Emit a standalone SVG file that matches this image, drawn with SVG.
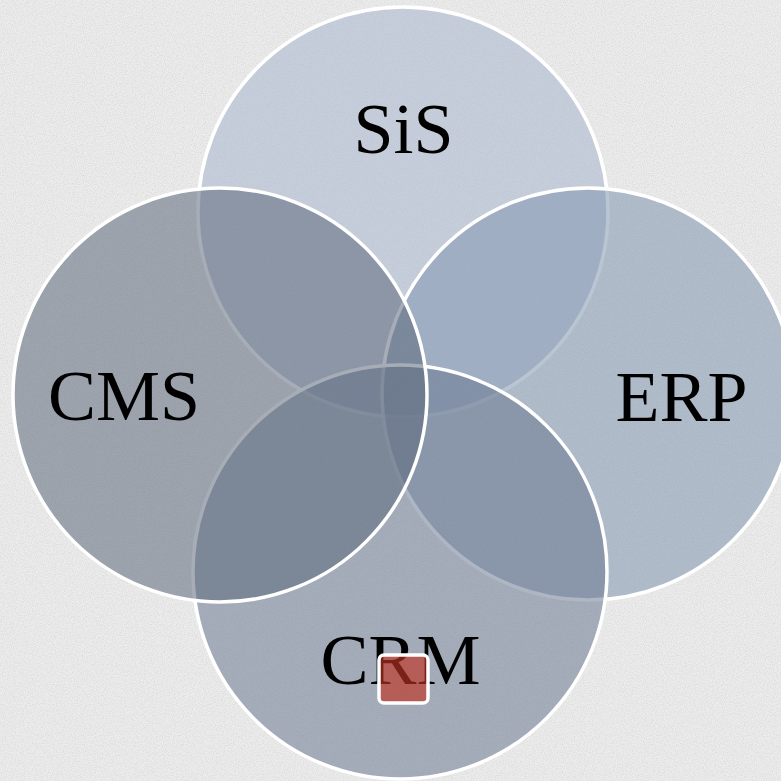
<svg xmlns="http://www.w3.org/2000/svg" width="781" height="781" viewBox="0 0 781 781">
  <defs>
    <filter id="paper" x="0" y="0" width="100%" height="100%">
      <feTurbulence type="fractalNoise" baseFrequency="0.9" numOctaves="2" seed="3" result="n"/>
      <feColorMatrix type="matrix" values="0 0 0 0 0  0 0 0 0 0  0 0 0 0 0  0 0 0 -1.2 0.75" />
    </filter>
  </defs>
  <style>
    .c { stroke: #ffffff; stroke-width: 3.5; fill-opacity: 0.55; }
    .lbl { font-family: "Liberation Serif", "Times New Roman", serif; font-size: 72px; fill: #000000; text-anchor: middle; }
  </style>
  <rect x="0" y="0" width="781" height="781" fill="#ececec"/>
  <rect x="0" y="0" width="781" height="781" filter="url(#paper)" opacity="0.12"/>
  <g id="connectors"></g>
  <g id="node-sis"><circle class="c" cx="403" cy="212" r="205" fill="#aab6cd"/></g>
  <g id="node-erp"><circle class="c" cx="588" cy="394" r="206" fill="#8295b0"/></g>
  <g id="node-crm"><circle class="c" cx="400" cy="572" r="207" fill="#6b7a91"/></g>
  <g id="node-cms"><circle class="c" cx="220" cy="395" r="207" fill="#5c697b"/></g>
  <g id="labels">
    <text class="lbl" x="403.5" y="153">SiS</text>
    <text class="lbl" x="124" y="420">CMS</text>
    <text class="lbl" x="681.5" y="421">ERP</text>
    <text class="lbl" x="400.5" y="684">CRM</text>
  </g>
  <g id="marker-square">
    <rect x="379" y="655" width="49" height="48" rx="5" ry="5" fill="#be3223" fill-opacity="0.65" stroke="#ffffff" stroke-width="3.5"/>
  </g>
</svg>
